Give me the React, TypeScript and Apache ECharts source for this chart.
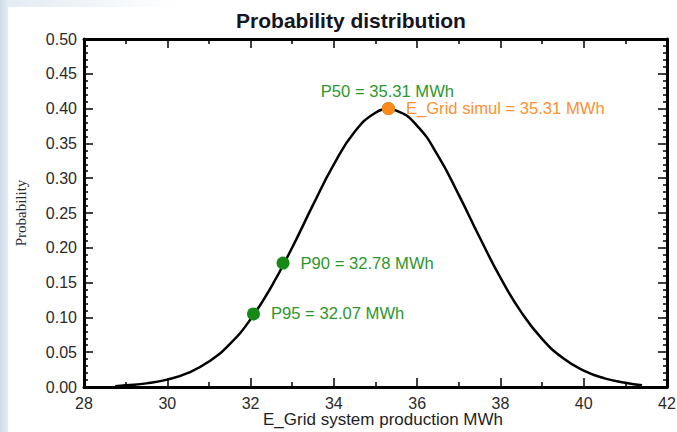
import React, { useEffect, useRef } from "react";
import * as echarts from "echarts";

// Curve (E_Grid system production MWh, probability)
const curveX = [28.75, 29.0, 29.5, 30.0, 30.5, 31.0, 31.5, 32.0, 32.5, 33.0, 33.5, 34.0, 34.5, 35.0, 35.31, 35.5, 36.0, 36.5, 37.0, 37.5, 38.0, 38.5, 39.0, 39.5, 40.0, 40.5, 41.0, 41.4];
const curveY = [0.001, 0.0024, 0.0052, 0.0106, 0.0202, 0.0365, 0.0616, 0.0973, 0.1443, 0.2005, 0.2616, 0.3199, 0.3667, 0.3941, 0.399, 0.3971, 0.3753, 0.3324, 0.2761, 0.2151, 0.1571, 0.1076, 0.0691, 0.0415, 0.0234, 0.0124, 0.0062, 0.0025];

const pointNames = ["P50", "P90", "P95"];
const pointX = [35.31, 32.78, 32.07];
const pointY = [0.4, 0.178, 0.105];

const simulName = "E_Grid simul";
const simulX = 35.31;
const simulY = 0.4;

const titleText = "Probability distribution";
const xAxisName = "E_Grid system production MWh";
const yAxisName = "Probability";

const xMin = 28, xMax = 42, xStep = 2;
const yMin = 0, yMax = 0.5, yStep = 0.05;

const GREEN = "#168a16";
const GREEN_TXT = "#2c972c";
const ORANGE = "#ff8a1c";
const ORANGE_TXT = "#ff9030";
const SANS = "'Liberation Sans', Arial, sans-serif";

export default function App() {
  const ref = useRef<HTMLDivElement>(null);
  useEffect(() => {
    if (!ref.current) return;
    const chart = echarts.init(ref.current, undefined, { renderer: "svg" });
    const axisLine = { show: true, onZero: false, lineStyle: { color: "#000", width: 3 } };
    const tick = { show: true, inside: true, length: 9, lineStyle: { color: "#000", width: 1.5 } };
    const minorX = { show: true, splitNumber: 2, length: 5, lineStyle: { color: "#000", width: 1.5 } };
    const minorY = { show: true, splitNumber: 5, length: 4, lineStyle: { color: "#000", width: 1.5 } };
    const labelStyle = { fontFamily: SANS, fontSize: 16, color: "#2a2a2a" };

    const greenData = pointNames.map((n, i) => ({
      value: [pointX[i], pointY[i]],
      label: i === 0
        ? { show: true, position: "top", distance: 2, offset: [-1, 0], formatter: `${n} = ${pointX[i].toFixed(2)} MWh` }
        : { show: true, position: "right", distance: 11, formatter: `${n} = ${pointX[i].toFixed(2)} MWh` },
    }));

    chart.setOption({
      animation: false,
      backgroundColor: "#ffffff",
      graphic: [
        {
          type: "rect",
          shape: { x: 0, y: 0, width: 8, height: 432 },
          style: {
            fill: new echarts.graphic.LinearGradient(0, 0, 1, 0, [
              { offset: 0, color: "#cfdbe8" },
              { offset: 1, color: "#e6edf5" },
            ]),
          },
          silent: true,
        },
        {
          type: "rect",
          shape: { x: 8, y: 0, width: 170, height: 7 },
          style: {
            fill: new echarts.graphic.LinearGradient(0, 0, 1, 0, [
              { offset: 0, color: "#e3ebf3" },
              { offset: 1, color: "#ffffff" },
            ]),
          },
          silent: true,
        },
        {
          type: "text",
          x: 351,
          y: 20,
          style: {
            text: titleText,
            fontFamily: SANS,
            fontWeight: "bold",
            fontSize: 21,
            fill: "#15151f",
            align: "center",
            verticalAlign: "middle",
          },
        },
      ],
      grid: { left: 84, right: 10, top: 39, bottom: 45, containLabel: false, outerBoundsMode: "none" },
      xAxis: [
        {
          type: "value",
          position: "bottom",
          min: xMin,
          max: xMax,
          interval: xStep,
          axisLine,
          axisTick: tick,
          minorTick: minorX,
          splitLine: { show: false },
          minorSplitLine: { show: false },
          axisLabel: { ...labelStyle, margin: 8, formatter: (v: number) => String(v) },
          name: xAxisName,
          nameLocation: "middle",
          nameGap: 24,
          nameMoveOverlap: false,
          nameTextStyle: { fontFamily: SANS, fontSize: 17, color: "#1e1e28", padding: [0, 0, 0, 15] },
        },
        {
          type: "value",
          position: "top",
          min: xMin,
          max: xMax,
          interval: xStep,
          axisLine,
          axisTick: tick,
          minorTick: minorX,
          splitLine: { show: false },
          axisLabel: { show: false },
        },
      ],
      yAxis: [
        {
          type: "value",
          position: "left",
          min: yMin,
          max: yMax,
          interval: yStep,
          axisLine,
          axisTick: tick,
          minorTick: minorY,
          splitLine: { show: false },
          minorSplitLine: { show: false },
          axisLabel: { ...labelStyle, margin: 7, formatter: (v: number) => v.toFixed(2) },
          name: yAxisName,
          nameLocation: "middle",
          nameRotate: 90,
          nameGap: 56,
          nameMoveOverlap: false,
          nameTextStyle: { fontFamily: "'Liberation Serif', 'Times New Roman', serif", fontSize: 15, color: "#2a2a35" },
        },
        {
          type: "value",
          position: "right",
          min: yMin,
          max: yMax,
          interval: yStep,
          axisLine,
          axisTick: tick,
          minorTick: minorY,
          splitLine: { show: false },
          axisLabel: { show: false },
        },
      ],
      series: [
        {
          type: "line",
          data: curveX.map((x, i) => [x, curveY[i]]),
          smooth: true,
          showSymbol: false,
          lineStyle: { color: "#000", width: 2.5 },
          z: 2,
        },
        {
          type: "scatter",
          data: greenData,
          symbol: "circle",
          symbolSize: 13,
          itemStyle: { color: GREEN, opacity: 1 },
          label: { fontFamily: SANS, fontSize: 16.6, color: GREEN_TXT },
          z: 3,
        },
        {
          type: "scatter",
          data: [
            {
              value: [simulX, simulY],
              label: { show: true, position: "right", distance: 11, formatter: `${simulName} = ${simulX.toFixed(2)} MWh` },
            },
          ],
          symbol: "circle",
          symbolSize: 13,
          itemStyle: { color: ORANGE, opacity: 1 },
          label: { fontFamily: SANS, fontSize: 16.6, color: ORANGE_TXT },
          z: 4,
        },
      ],
    });
    return () => chart.dispose();
  }, []);
  return (
    <div
      ref={ref}
      style={{ position: "fixed", left: 0, top: 0, width: 677, height: 432 }}
    />
  );
}
